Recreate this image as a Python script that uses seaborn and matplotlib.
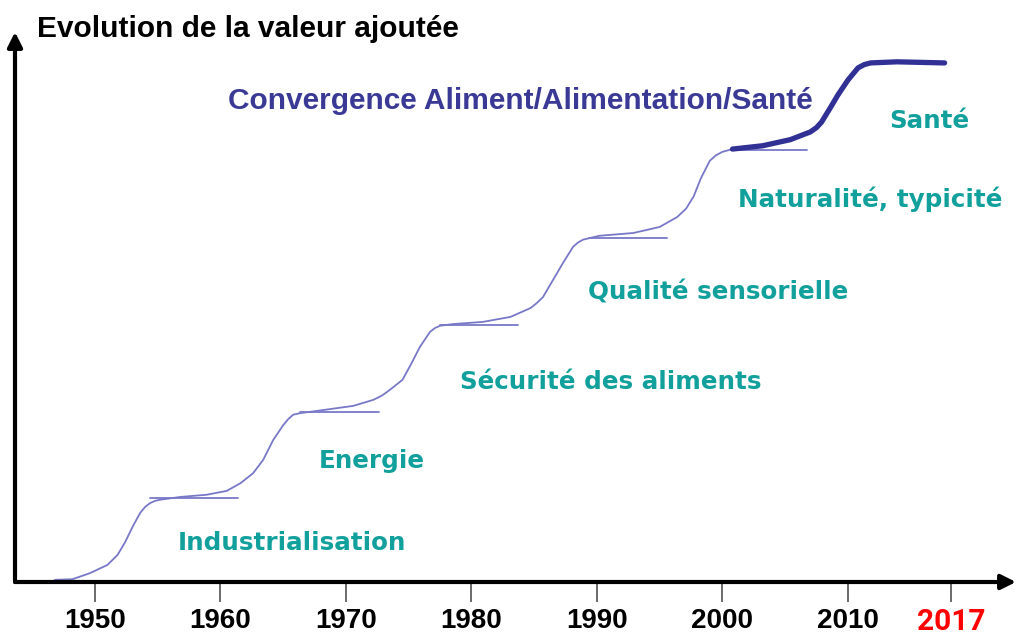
import numpy as np
import pandas as pd
import seaborn as sns
import matplotlib.pyplot as plt

# main thin staircase curve (year, relative value)
years_thin = [1946.8, 1948.2, 1949.6, 1951.0, 1951.8, 1952.4, 1953.0, 1953.6, 1954.0, 1954.4,
              1954.8, 1955.2, 1956.8, 1958.9, 1960.5, 1961.6, 1962.6, 1963.4, 1964.2, 1965.0,
              1965.4, 1965.8, 1966.4, 1967.1, 1968.7, 1970.6, 1972.2, 1972.9, 1973.5, 1974.5,
              1975.2, 1975.9, 1976.7, 1977.1, 1977.5, 1978.5, 1980.9, 1983.1, 1984.7, 1985.2,
              1985.7, 1986.5, 1987.3, 1988.1, 1988.5, 1988.9, 1990.2, 1992.9, 1995.0, 1996.4,
              1997.1, 1997.7, 1998.3, 1999.0, 1999.5, 2000.0, 2000.8]
value_thin = [0.4, 0.5, 1.6, 3.1, 4.9, 7.2, 10.0, 12.5, 13.6, 14.3,
              14.7, 14.9, 15.4, 15.8, 16.5, 17.9, 19.7, 22.1, 25.7, 28.4,
              29.5, 30.3, 30.6, 30.8, 31.3, 31.9, 33.0, 33.8, 34.8, 36.6,
              39.5, 42.6, 45.3, 46.0, 46.4, 46.7, 47.1, 48.0, 49.6, 50.5,
              51.6, 54.7, 57.8, 60.7, 61.5, 62.0, 62.7, 63.2, 64.3, 66.1,
              67.6, 69.8, 73.2, 76.3, 77.3, 77.9, 78.4]

# flat tails after each plateau
tail_start = [1954.4, 1966.3, 1977.5, 1989.4, 2001.0]
tail_end = [1961.4, 1972.6, 1983.7, 1995.6, 2006.7]
tail_value = [15.2, 30.8, 46.6, 62.3, 78.3]

# thick last step (convergence)
years_thick = [2000.8, 2003.2, 2005.4, 2007.0, 2007.5, 2007.9, 2008.6, 2009.2, 2010.0, 2010.8,
               2011.3, 2011.8, 2013.9, 2017.7]
value_thick = [78.4, 79.0, 80.1, 81.5, 82.3, 83.3, 85.9, 88.2, 90.9, 93.1,
               93.7, 94.0, 94.2, 94.0]

tick_years = [1950, 1960, 1970, 1980, 1990, 2000, 2010, 2018.2]
tick_labels = ['1950', '1960', '1970', '1980', '1990', '2000', '2010', '2017']

label_texts = ['Industrialisation', 'Energie', 'Sécurité des aliments', 'Qualité sensorielle',
               'Naturalité, typicité', 'Santé']
label_x = [1956.6, 1967.8, 1979.1, 1989.3, 2001.2, 2013.3]
label_y = [5.8, 20.7, 35.0, 51.2, 67.9, 82.2]

W, H = 1016, 635

sns.set_style('white')
plt.rcParams['font.family'] = ['Liberation Sans', 'DejaVu Sans']

rows = []
for x, y in zip(years_thin, value_thin):
    rows.append({'seg': 0, 'year': x, 'value': y})
for i, (a, b, v) in enumerate(zip(tail_start, tail_end, tail_value)):
    rows.append({'seg': i + 1, 'year': a, 'value': v})
    rows.append({'seg': i + 1, 'year': b, 'value': v})
df_thin = pd.DataFrame(rows)
df_thick = pd.DataFrame({'year': years_thick, 'value': value_thick})

fig = plt.figure(figsize=(W / 100, H / 100), dpi=100)
ax = fig.add_axes([15 / W, 53 / H, (W - 15) / W, 550 / H])

sns.lineplot(data=df_thin, x='year', y='value', units='seg', estimator=None, sort=False,
             color='#7878c8', linewidth=1.3, ax=ax, solid_joinstyle='round')
sns.lineplot(data=df_thick, x='year', y='value', estimator=None, sort=False,
             color='#303095', linewidth=3.8, ax=ax, solid_joinstyle='round', solid_capstyle='round')

ax.set_xlim(1943.63, 2023.39)
ax.set_ylim(0, 99.6)
for s in ax.spines.values():
    s.set_visible(False)
ax.set_xlabel('')
ax.set_ylabel('')
ax.set_yticks([])
ax.set_xticks(tick_years)
ax.set_xticklabels(tick_labels, fontsize=20, fontweight='bold', color='black')
ax.tick_params(axis='x', bottom=True, length=14.5, width=1.4, color='#6a6a6a', pad=4)
last = ax.get_xticklabels()[-1]
last.set_color('#ff0000')
last.set_family(['Roboto', 'DejaVu Sans'])
last.set_fontweight('bold')
last.set_fontsize(21.5)

# axis arrows
ax.annotate('', xy=(1, 0), xytext=(0, 0), xycoords='axes fraction', textcoords='axes fraction',
            arrowprops=dict(arrowstyle='-|>', lw=3, color='black', mutation_scale=22, shrinkA=0, shrinkB=0),
            annotation_clip=False)
ax.annotate('', xy=(0, 1), xytext=(0, 0), xycoords='axes fraction', textcoords='axes fraction',
            arrowprops=dict(arrowstyle='-|>', lw=3, color='black', mutation_scale=22, shrinkA=0, shrinkB=0),
            annotation_clip=False)

for t, x, y in zip(label_texts, label_x, label_y):
    ax.text(x, y, t, ha='left', va='baseline', fontsize=17.7, fontweight='bold',
            color='#12a09c', family=['DejaVu Sans'])

ax.text(1960.6, 85.7, 'Convergence Aliment/Alimentation/Santé', ha='left', va='baseline',
        fontsize=21.5, fontweight='bold', color='#3a3a96')

fig.text(37 / W, 1 - 37 / H, 'Evolution de la valeur ajoutée', ha='left', va='baseline',
         fontsize=21.5, fontweight='bold', color='black')

fig.savefig('out.png', dpi=100)
